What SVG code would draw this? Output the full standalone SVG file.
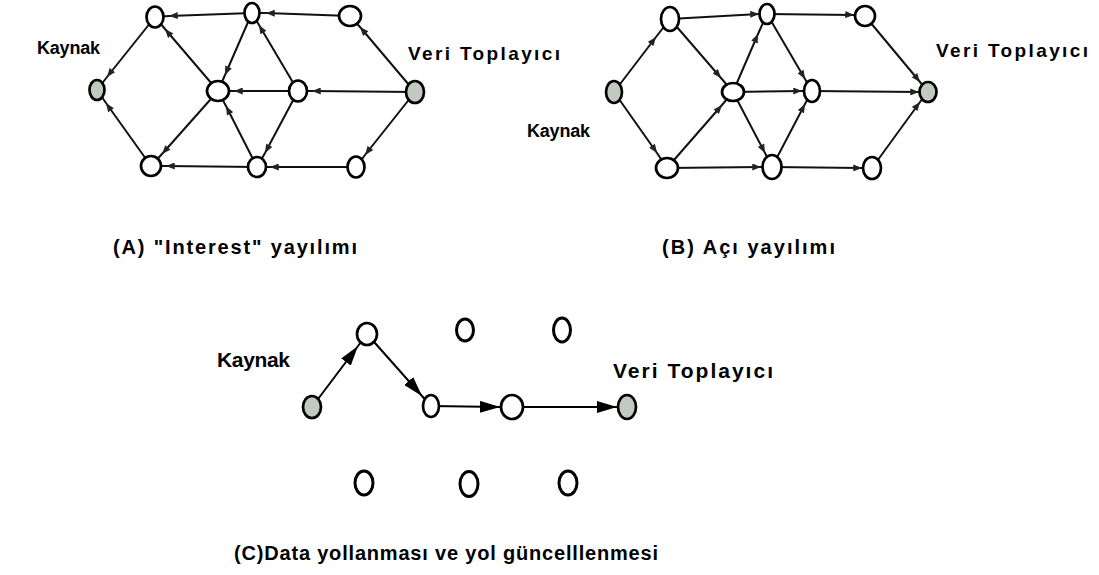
<svg xmlns="http://www.w3.org/2000/svg" width="1099" height="575" viewBox="0 0 1099 575">
  <defs>
    <style>
      .bg { fill: #ffffff; }
      .node { fill: #ffffff; stroke: #000000; stroke-width: 2.7; }
      .end { fill: #c2c9c0; stroke: #000000; stroke-width: 2.7; }
      .iso { fill: none; stroke: #000000; stroke-width: 3; }
      .edge { fill: none; stroke: #111111; stroke-width: 2; marker-mid: url(#tip); }
      .path { fill: none; stroke: #000000; stroke-width: 2; marker-mid: url(#tipBig); }
      .lbl { font-family: "Liberation Sans", Arial, Helvetica, sans-serif; font-weight: bold; font-size: 19px; fill: #000000; }
      .src { font-family: "Liberation Sans", Arial, Helvetica, sans-serif; font-weight: bold; font-size: 18px; fill: #000000; }
      .lblC { font-family: "Liberation Sans", Arial, Helvetica, sans-serif; font-weight: bold; font-size: 21px; fill: #000000; }
      .cap { font-family: "Liberation Sans", Arial, Helvetica, sans-serif; font-weight: bold; font-size: 20px; fill: #000000; }
    </style>
    <!-- small arrowhead for the two mesh graphs -->
    <marker id="tip" viewBox="0 0 10 8" refX="10" refY="4" markerUnits="userSpaceOnUse" markerWidth="10" markerHeight="7" orient="auto">
      <path d="M0,0 L10,4 L0,8 z" fill="#222222"/>
    </marker>
    <!-- large arrowhead for the chosen data path -->
    <marker id="tipBig" viewBox="0 0 20 12" refX="20" refY="6" markerUnits="userSpaceOnUse" markerWidth="20" markerHeight="12" orient="auto">
      <path d="M0,0 L20,6 L0,12 z" fill="#000000"/>
    </marker>
  </defs>

  <rect class="bg" x="0" y="0" width="1099" height="575"/>

  <!-- ===== (A) interest propagation: sink floods interests back to the source ===== -->
  <g id="connectors-a">
    <path class="edge" d="M350,16 L266,13 L252,13"/>
    <path class="edge" d="M252,13 L169,16 L155,17"/>
    <path class="edge" d="M155,17 L107,77 L97,90"/>
    <path class="edge" d="M151,166 L106,103 L97,90"/>
    <path class="edge" d="M218,91 L165,29 L155,17"/>
    <path class="edge" d="M218,91 L162,154 L151,166"/>
    <path class="edge" d="M252,13 L225,75 L218,91"/>
    <path class="edge" d="M298,91 L234,91 L218,91"/>
    <path class="edge" d="M257,167 L226,106 L218,91"/>
    <path class="edge" d="M298,91 L259,25 L252,13"/>
    <path class="edge" d="M298,91 L265,153 L257,167"/>
    <path class="edge" d="M257,167 L166,166 L151,166"/>
    <path class="edge" d="M356,167 L270,167 L257,167"/>
    <path class="edge" d="M415,92 L360,27 L350,16"/>
    <path class="edge" d="M415,92 L312,91 L298,91"/>
    <path class="edge" d="M415,92 L365,155 L356,167"/>
  </g>

  <g id="a-source"><ellipse class="end" cx="97" cy="90" rx="7.5" ry="10"/></g>
  <g id="a-top-left"><ellipse class="node" cx="155" cy="17" rx="8.5" ry="10.5"/></g>
  <g id="a-bottom-left"><ellipse class="node" cx="151" cy="166" rx="10" ry="10"/></g>
  <g id="a-center"><ellipse class="node" cx="218" cy="91" rx="11" ry="10"/></g>
  <g id="a-top-mid"><ellipse class="node" cx="252" cy="13" rx="7.5" ry="10"/></g>
  <g id="a-bottom-mid"><ellipse class="node" cx="257" cy="167" rx="9" ry="10"/></g>
  <g id="a-right-mid"><ellipse class="node" cx="298" cy="91" rx="9" ry="10.5"/></g>
  <g id="a-top-right"><ellipse class="node" cx="350" cy="16" rx="11" ry="10"/></g>
  <g id="a-bottom-right"><ellipse class="node" cx="356" cy="167" rx="8.5" ry="10.5"/></g>
  <g id="a-sink"><ellipse class="end" cx="415" cy="92" rx="9" ry="11"/></g>

  <g id="a-labels">
    <text class="src" x="37" y="54" textLength="63" lengthAdjust="spacing">Kaynak</text>
    <text class="lbl" x="408" y="60" textLength="152" lengthAdjust="spacing">Veri Toplayıcı</text>
    <text class="cap" x="113" y="254" textLength="244" lengthAdjust="spacing">(A) "Interest" yayılımı</text>
  </g>

  <!-- ===== (B) gradient set-up: paths fan out from source towards the sink ===== -->
  <g id="connectors-b">
    <path class="edge" d="M614,92 L656,37 L670,19"/>
    <path class="edge" d="M614,92 L657,153 L667,168"/>
    <path class="edge" d="M670,19 L759,14 L767,14"/>
    <path class="edge" d="M670,19 L721,78 L733,92"/>
    <path class="edge" d="M667,168 L722,105 L733,92"/>
    <path class="edge" d="M667,168 L761,167 L772,167"/>
    <path class="edge" d="M733,92 L758,34 L767,14"/>
    <path class="edge" d="M733,92 L802,91 L812,91"/>
    <path class="edge" d="M733,92 L765,153 L772,167"/>
    <path class="edge" d="M767,14 L805,79 L812,91"/>
    <path class="edge" d="M772,167 L805,104 L812,91"/>
    <path class="edge" d="M767,14 L854,15 L865,16"/>
    <path class="edge" d="M812,91 L919,92 L928,92"/>
    <path class="edge" d="M865,16 L920,82 L928,92"/>
    <path class="edge" d="M872,168 L920,102 L928,92"/>
    <path class="edge" d="M772,167 L862,168 L872,168"/>
  </g>

  <g id="b-source"><ellipse class="end" cx="614" cy="92" rx="8" ry="11"/></g>
  <g id="b-top-left"><ellipse class="node" cx="670" cy="19" rx="9" ry="12"/></g>
  <g id="b-bottom-left"><ellipse class="node" cx="667" cy="168" rx="11" ry="10"/></g>
  <g id="b-center"><ellipse class="node" cx="733" cy="92" rx="11" ry="9"/></g>
  <g id="b-top-mid"><ellipse class="node" cx="767" cy="14" rx="7.5" ry="10"/></g>
  <g id="b-bottom-mid"><ellipse class="node" cx="772" cy="167" rx="9.5" ry="12"/></g>
  <g id="b-right-mid"><ellipse class="node" cx="812" cy="91" rx="8" ry="11"/></g>
  <g id="b-top-right"><ellipse class="node" cx="865" cy="16" rx="10" ry="10"/></g>
  <g id="b-bottom-right"><ellipse class="node" cx="872" cy="168" rx="9" ry="11"/></g>
  <g id="b-sink"><ellipse class="end" cx="928" cy="92" rx="8.5" ry="10"/></g>

  <g id="b-labels">
    <text class="lbl" x="936" y="57" textLength="152" lengthAdjust="spacing">Veri Toplayıcı</text>
    <text class="src" x="527" y="137" textLength="63" lengthAdjust="spacing">Kaynak</text>
    <text class="cap" x="662" y="254" textLength="173" lengthAdjust="spacing">(B) Açı yayılımı</text>
  </g>

  <!-- ===== (C) data delivery along the reinforced path ===== -->
  <g id="connectors-c">
    <path class="path" d="M312,407 L358,346 L367,334"/>
    <path class="path" d="M367,334 L422,396 L431,406"/>
    <path class="path" d="M431,406 L500,407 L512,407"/>
    <path class="path" d="M512,407 L617,407 L627,407"/>
  </g>

  <g id="c-source"><ellipse class="end" cx="312" cy="407" rx="9" ry="11"/></g>
  <g id="c-hop-1"><ellipse class="node" cx="367" cy="334" rx="10" ry="11"/></g>
  <g id="c-hop-2"><ellipse class="node" cx="431" cy="406" rx="8" ry="11"/></g>
  <g id="c-hop-3"><ellipse class="node" cx="512" cy="407" rx="11" ry="12"/></g>
  <g id="c-sink"><ellipse class="end" cx="627" cy="407" rx="9" ry="12"/></g>
  <g id="c-idle-1"><ellipse class="iso" cx="465" cy="330" rx="8.5" ry="11"/></g>
  <g id="c-idle-2"><ellipse class="iso" cx="562" cy="330" rx="8.5" ry="12"/></g>
  <g id="c-idle-3"><ellipse class="iso" cx="364" cy="483" rx="9" ry="12"/></g>
  <g id="c-idle-4"><ellipse class="iso" cx="469" cy="484" rx="9" ry="12.5"/></g>
  <g id="c-idle-5"><ellipse class="iso" cx="568" cy="483" rx="9" ry="12"/></g>

  <g id="c-labels">
    <text class="lblC" x="217" y="367" textLength="73" lengthAdjust="spacing">Kaynak</text>
    <text class="lblC" x="613" y="378" textLength="160" lengthAdjust="spacing">Veri Toplayıcı</text>
    <text class="cap" x="234" y="560" textLength="424" lengthAdjust="spacing">(C)Data yollanması ve yol güncelllenmesi</text>
  </g>
</svg>
